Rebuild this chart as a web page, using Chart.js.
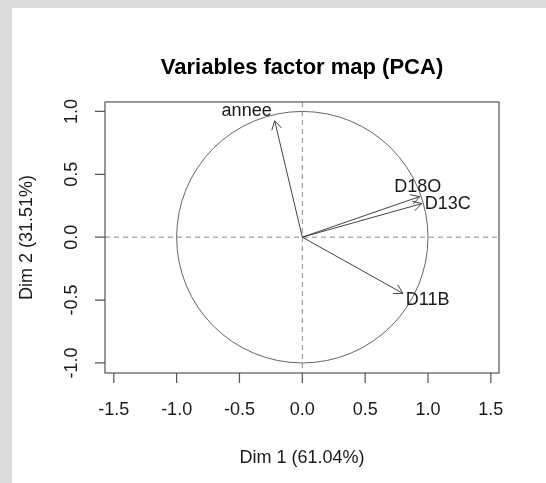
<!DOCTYPE html>
<html>
<head>
<meta charset="utf-8">
<script src="https://cdn.jsdelivr.net/npm/chart.js@4/dist/chart.umd.min.js"></script>
<style>
  html, body { margin: 0; padding: 0; background: #dcdcdc; }
  #wrap { width: 546px; height: 483px; }
</style>
</head>
<body>
<div id="wrap"><canvas id="myChart" width="546" height="483"></canvas></div>
<script>
// Data
const variableNames = ["annee", "D18O", "D13C", "D11B"];
const dim1Values = [-0.22, 0.934, 0.95, 0.80];
const dim2Values = [0.926, 0.323, 0.267, -0.447];
const xTickValues = [-1.5, -1.0, -0.5, 0.0, 0.5, 1.0, 1.5];
const yTickValues = [-1.0, -0.5, 0.0, 0.5, 1.0];
const chartTitle = "Variables factor map (PCA)";
const xAxisTitle = "Dim 1 (61.04%)";
const yAxisTitle = "Dim 2 (31.51%)";

// Label placement next to the arrow tip (px offsets + alignment)
const labelPlacement = [
  { dx: -3, dy: -10, align: "right" },
  { dx: -2, dy: -10, align: "center" },
  { dx: 3, dy: 0, align: "left" },
  { dx: 3, dy: 7, align: "left" },
];

const FONT = "'Liberation Sans', Arial, Helvetica, sans-serif";
const INK = "#1a1a1a";

// R-like base graphics drawn around the chart area
const rStylePlot = {
  id: "rStylePlot",
  beforeDatasetsDraw(chart) {
    const ctx = chart.ctx;
    const xs = chart.scales.x;
    const ys = chart.scales.y;
    const area = chart.chartArea;
    const cx = xs.getPixelForValue(0);
    const cy = ys.getPixelForValue(0);

    ctx.save();
    // correlation circle
    ctx.strokeStyle = "#666666";
    ctx.lineWidth = 1;
    ctx.beginPath();
    ctx.ellipse(cx, cy, xs.getPixelForValue(1) - cx, cy - ys.getPixelForValue(1), 0, 0, Math.PI * 2);
    ctx.stroke();

    // dashed zero lines
    ctx.strokeStyle = "#8a8a8a";
    ctx.setLineDash([5, 4]);
    ctx.beginPath();
    ctx.moveTo(cx, area.top);
    ctx.lineTo(cx, area.bottom);
    ctx.moveTo(area.left, cy);
    ctx.lineTo(area.right, cy);
    ctx.stroke();
    ctx.restore();
  },
  afterDatasetsDraw(chart) {
    const ctx = chart.ctx;
    const xs = chart.scales.x;
    const ys = chart.scales.y;
    const area = chart.chartArea;

    ctx.save();
    // arrow heads and variable labels
    chart.data.datasets.forEach((ds, i) => {
      const meta = chart.getDatasetMeta(i);
      const p0 = meta.data[0];
      const p1 = meta.data[1];
      const ang = Math.atan2(p1.y - p0.y, p1.x - p0.x);
      const len = 10;
      ctx.strokeStyle = "#444444";
      ctx.lineWidth = 1;
      ctx.beginPath();
      ctx.moveTo(p1.x - len * Math.cos(ang - Math.PI / 6), p1.y - len * Math.sin(ang - Math.PI / 6));
      ctx.lineTo(p1.x, p1.y);
      ctx.lineTo(p1.x - len * Math.cos(ang + Math.PI / 6), p1.y - len * Math.sin(ang + Math.PI / 6));
      ctx.stroke();

      const lp = labelPlacement[i];
      ctx.fillStyle = INK;
      ctx.font = "18px " + FONT;
      ctx.textAlign = lp.align;
      ctx.textBaseline = "middle";
      ctx.fillText(ds.label, p1.x + lp.dx, p1.y + lp.dy);
    });

    // box
    ctx.strokeStyle = "#555555";
    ctx.lineWidth = 1.2;
    ctx.strokeRect(area.left, area.top, area.right - area.left, area.bottom - area.top);

    // x axis ticks
    ctx.font = "18px " + FONT;
    ctx.fillStyle = INK;
    ctx.textAlign = "center";
    ctx.textBaseline = "middle";
    ctx.beginPath();
    xTickValues.forEach((v) => {
      const px = xs.getPixelForValue(v);
      ctx.moveTo(px, area.bottom);
      ctx.lineTo(px, area.bottom + 10);
      ctx.fillText(v.toFixed(1), px, area.bottom + 37);
    });
    ctx.stroke();

    // y axis ticks (labels rotated like R)
    ctx.beginPath();
    yTickValues.forEach((v) => {
      const py = ys.getPixelForValue(v);
      ctx.moveTo(area.left, py);
      ctx.lineTo(area.left - 10, py);
      ctx.save();
      ctx.translate(area.left - 33, py);
      ctx.rotate(-Math.PI / 2);
      ctx.fillText(v.toFixed(1), 0, 0);
      ctx.restore();
    });
    ctx.stroke();

    // axis titles
    const midX = (area.left + area.right) / 2;
    const midY = (area.top + area.bottom) / 2;
    ctx.fillText(xAxisTitle, midX, area.bottom + 85);
    ctx.save();
    ctx.translate(27, midY);
    ctx.rotate(-Math.PI / 2);
    ctx.fillText(yAxisTitle, 0, 0);
    ctx.restore();

    // main title
    ctx.font = "bold 22px " + FONT;
    ctx.fillStyle = "#000000";
    ctx.fillText(chartTitle, midX, 68);
    ctx.restore();
  },
};

const panelBackground = {
  id: "panelBackground",
  beforeDraw(chart) {
    const ctx = chart.ctx;
    ctx.save();
    ctx.fillStyle = "#dcdcdc";
    ctx.fillRect(0, 0, chart.width, chart.height);
    ctx.fillStyle = "#ffffff";
    ctx.fillRect(12, 8, chart.width - 12, chart.height - 8);
    ctx.restore();
  },
};

const datasets = variableNames.map((name, i) => ({
  label: name,
  data: [
    { x: 0, y: 0 },
    { x: dim1Values[i], y: dim2Values[i] },
  ],
  showLine: true,
  borderColor: "#444444",
  borderWidth: 1,
  pointRadius: 0,
  pointHoverRadius: 0,
  tension: 0,
  clip: false,
}));

const ctx = document.getElementById("myChart").getContext("2d");
new Chart(ctx, {
  type: "scatter",
  data: { datasets },
  options: {
    responsive: false,
    animation: false,
    devicePixelRatio: 1,
    layout: {
      padding: { left: 105, right: 47, top: 102, bottom: 110 },
    },
    plugins: {
      legend: { display: false },
      tooltip: { enabled: false },
      title: { display: false },
    },
    scales: {
      x: { type: "linear", min: -1.57, max: 1.565, display: false },
      y: { type: "linear", min: -1.08, max: 1.075, display: false },
    },
  },
  plugins: [panelBackground, rStylePlot],
});
</script>
</body>
</html>
